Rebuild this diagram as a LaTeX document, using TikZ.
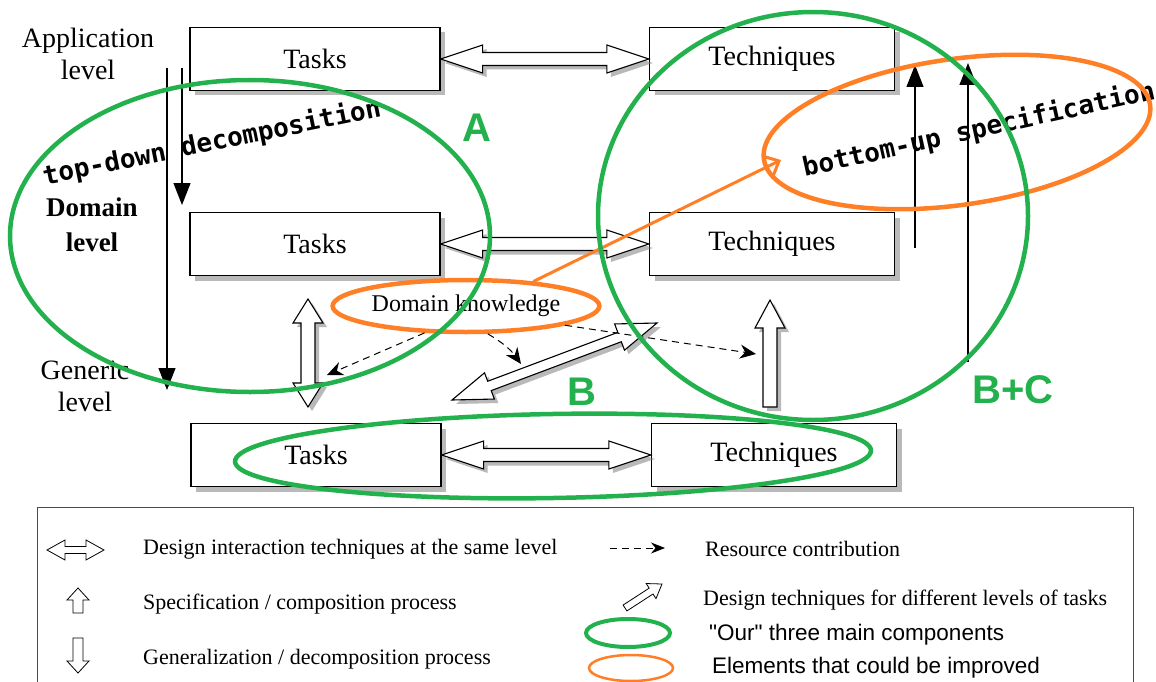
\documentclass[tikz,border=0pt]{standalone}
\usepackage{fontspec}
\setmainfont{Liberation Serif}
\newfontfamily\arialfont{Liberation Sans}
\newfontfamily\monofont{DejaVu Sans Mono}
\usetikzlibrary{arrows.meta, calc, shadows, shapes.geometric}
\definecolor{annogreen}{RGB}{34,177,76}
\definecolor{annoorange}{RGB}{255,127,39}

\begin{document}
\begin{tikzpicture}[x=1pt, y=-1pt, >=Stealth, font=\fontsize{28}{32}\selectfont,
  box/.style={draw, line width=1.3pt, fill=white, minimum width=250pt, minimum height=63pt, inner sep=0pt,
    drop shadow={shadow xshift=5pt, shadow yshift=-5pt, fill=black!55, opacity=.5}},
  harrow/.style={draw, line width=1.1pt, fill=white, line join=miter,
    drop shadow={shadow xshift=4pt, shadow yshift=-4pt, fill=black!55, opacity=.5}},
  larrow/.style={draw, line width=0.8pt, fill=white, line join=miter},
  flow/.style={line width=1.2pt, -{Triangle[length=22pt, width=17pt]}},
  contrib/.style={line width=1pt, dash pattern=on 7pt off 5pt, -{Stealth[length=16pt, width=14pt]}},
  ring/.style={line width=4.5pt, draw=annogreen},
  oring/.style={line width=4.5pt, draw=annoorange},
  lvl/.style={align=center, inner sep=0pt},
  spec/.style={font=\monofont\bfseries\fontsize{26}{26}\selectfont, inner sep=0pt},
  partlabel/.style={text=annogreen, font=\arialfont\bfseries\fontsize{40}{40}\selectfont, inner sep=0pt},
  legtext/.style={anchor=west, inner sep=0pt, font=\fontsize{22}{22}\selectfont}]
\useasboundingbox (0,0) rectangle (1156,682);
% hollow arrows: tail, tip, head length, head half width, shaft half width
\def\dblarrow[#1]#2#3#4#5#6{%
  \path[#1] (#2) -- ($(#2)!#4!(#3)!#5!90:(#3)$) -- ($(#2)!#4!(#3)!#6!90:(#3)$)
    -- ($(#3)!#4!(#2)!#6!-90:(#2)$) -- ($(#3)!#4!(#2)!#5!-90:(#2)$) -- (#3)
    -- ($(#3)!#4!(#2)!#5!90:(#2)$) -- ($(#3)!#4!(#2)!#6!90:(#2)$)
    -- ($(#2)!#4!(#3)!#6!-90:(#3)$) -- ($(#2)!#4!(#3)!#5!-90:(#3)$) -- cycle;}
\def\onearrow[#1]#2#3#4#5#6{%
  \path[#1] ($(#2)!#6!90:(#3)$) -- ($(#3)!#4!(#2)!#6!-90:(#2)$) -- ($(#3)!#4!(#2)!#5!-90:(#2)$)
    -- (#3) -- ($(#3)!#4!(#2)!#5!90:(#2)$) -- ($(#3)!#4!(#2)!#6!90:(#2)$)
    -- ($(#2)!#6!-90:(#3)$) -- cycle;}
% levels
\node[lvl] (app) at (88,54) {Application\\level};
\node[lvl, font=\bfseries\fontsize{27}{35}\selectfont] (dom) at (92,225) {Domain\\level};
\node[lvl] (gen) at (85,386) {Generic\\level};
% tasks and techniques per level
\node[box] (T1) at (315,59) {Tasks};
\node[box, minimum width=245pt] (K1) at (772,59) {Techniques};
\node[box] (T2) at (315,244) {Tasks};
\node[box, minimum width=245pt] (K2) at (772,244) {Techniques};
\node[box] (T3) at (316,455) {Tasks};
\node[box, minimum width=245pt] (K3) at (774,455) {Techniques};
% same-level interaction
\dblarrow[harrow]{T1.east}{K1.west}{42pt}{14pt}{6.5pt}
\dblarrow[harrow]{T2.east}{K2.west}{42pt}{14pt}{6.5pt}
\dblarrow[harrow]{T3.east}{K3.west}{42pt}{14pt}{6.5pt}
% between levels
\coordinate (vA) at (308,299);
\coordinate (vB) at (308,407);
\dblarrow[harrow]{vA}{vB}{24pt}{15pt}{7pt}
\coordinate (xA) at (452,400);
\coordinate (xB) at (657,323);
\dblarrow[harrow]{xA}{xB}{40pt}{14pt}{5pt}
\coordinate (uA) at (770,407);
\coordinate (uB) at (770,300);
\onearrow[harrow]{uA}{uB}{28pt}{15pt}{7pt}
% top-down / bottom-up lines
\coordinate (d1s) at (167,68);  \coordinate (d1e) at (167,390);
\coordinate (d2s) at (182,68);  \coordinate (d2e) at (182,205);
\coordinate (u1s) at (915,248); \coordinate (u1e) at (915,65);
\coordinate (u2s) at (968,362); \coordinate (u2e) at (968,63);
\foreach \s/\e in {d1s/d1e, d2s/d2e, u1s/u1e, u2s/u2e}
  \draw[flow] (\s) -- (\e);
\node[spec, rotate=11.5] (td) at (212,143) {top-down decomposition};
\node[spec, rotate=12.5] (bu) at (979,130) {bottom-up specification};
% domain knowledge and its contributions
\node[ellipse, oring, minimum width=242pt, minimum height=52pt, inner sep=0pt,
  font=\fontsize{24}{24}\selectfont] (DK) at (466,306) {Domain knowledge};
\coordinate (c1) at (327,375);
\coordinate (c2) at (521,364);
\coordinate (c3) at (756,354);
\draw[contrib] (DK.-147) -- (c1);
\draw[contrib] (DK.-52) to[bend left=12] (c2);
\draw[contrib] (DK.-11) -- (c3);
\coordinate (o1) at (781,160);
\draw[line width=3pt, annoorange, -{Straight Barb[length=12pt, width=22pt]}] (DK.20) -- (o1);
% annotations
\draw[oring, rotate around={8:(957,132)}] (957,132) ellipse [x radius=195pt, y radius=73pt];
\draw[ring] (250,236) ellipse [x radius=240pt, y radius=156pt];
\draw[ring] (813,216) ellipse [x radius=215pt, y radius=204pt];
\draw[ring, rotate around={1:(553,456)}] (553,456) ellipse [x radius=318pt, y radius=42pt];
\node[partlabel] (lA) at (477,128) {A};
\node[partlabel] (lB) at (582,392) {B};
\node[partlabel] (lBC) at (1013,390) {B+C};
% legend
\draw[line width=1pt, black!70] (37,507) rectangle (1133,700);
\coordinate (g1a) at (47,550);  \coordinate (g1b) at (104,550);
\dblarrow[larrow]{g1a}{g1b}{18pt}{10pt}{3.5pt}
\node[legtext] at (143,549) {Design interaction techniques at the same level};
\coordinate (g2a) at (78,613);  \coordinate (g2b) at (78,588);
\onearrow[larrow]{g2a}{g2b}{12pt}{11pt}{5pt}
\node[legtext] at (143,604) {Specification / composition process};
\coordinate (g3a) at (78,638);  \coordinate (g3b) at (78,673);
\onearrow[larrow]{g3a}{g3b}{12pt}{11pt}{5pt}
\node[legtext] at (143,659) {Generalization / decomposition process};
\coordinate (g4a) at (610,548); \coordinate (g4b) at (665,548);
\draw[contrib, -{Stealth[length=14pt, width=11pt]}] (g4a) -- (g4b);
\node[legtext] at (705,549) {Resource contribution};
\coordinate (g5a) at (625,608); \coordinate (g5b) at (662,584);
\onearrow[larrow]{g5a}{g5b}{13pt}{9pt}{3.5pt}
\node[legtext] at (703,600) {Design techniques for different levels of tasks};
\node[ellipse, draw=annogreen, line width=4pt, minimum width=84pt, minimum height=28pt] (g6) at (628,633) {};
\node[legtext, font=\arialfont\fontsize{22.5}{22.5}\selectfont] at (709,635) {"Our" three main components};
\node[ellipse, draw=annoorange, line width=2.5pt, minimum width=84pt, minimum height=26pt] (g7) at (631,668) {};
\node[legtext, font=\arialfont\fontsize{22.5}{22.5}\selectfont] at (712,668) {Elements that could be improved};
\end{tikzpicture}
\end{document}
